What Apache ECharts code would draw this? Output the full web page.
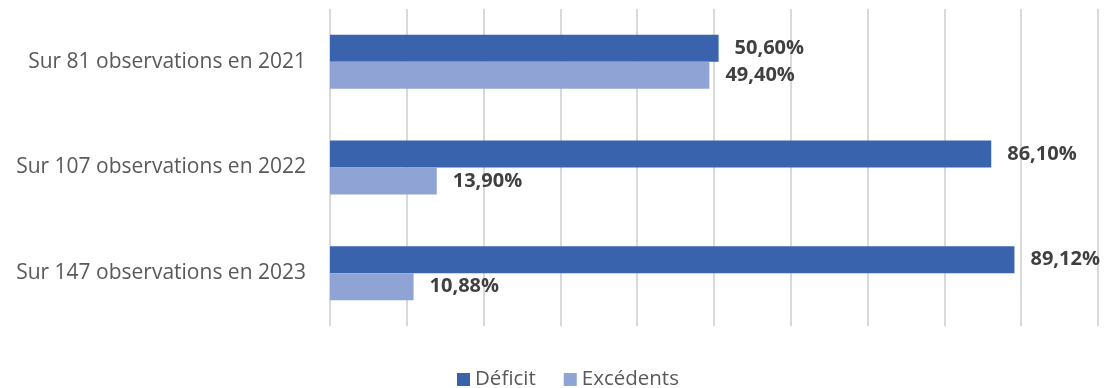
<!DOCTYPE html>
<html>
<head>
<meta charset="utf-8">
<script src="https://cdn.jsdelivr.net/npm/echarts@6/dist/echarts.min.js"></script>
<style>
  html, body { margin: 0; padding: 0; background: #fff; }
  #chart { width: 1104px; height: 388px; }
</style>
</head>
<body>
<div id="chart"></div>
<script>
// Categories (top to bottom) and the share of each outcome, in percent
const categories = [
  'Sur 81 observations en 2021',
  'Sur 107 observations en 2022',
  'Sur 147 observations en 2023'
];
const deficit = [50.60, 86.10, 89.12];
const excedents = [49.40, 13.90, 10.88];
const seriesNames = ['Déficit', 'Excédents'];

const fontFamily = '"Open Sans", "Liberation Sans", Arial, sans-serif';

function pct(v) {
  return v.toFixed(2).replace('.', ',') + '%';
}

const labelStyle = {
  show: true,
  position: 'right',
  distance: 16,
  formatter: p => pct(p.value),
  color: '#404040',
  fontWeight: 'bold',
  fontSize: 20,
  fontFamily
};

const chart = echarts.init(document.getElementById('chart'), null, { renderer: 'canvas' });
chart.setOption({
  animation: false,
  grid: { left: 330, right: 6, top: 9, bottom: 62, containLabel: false },
  legend: {
    top: 364,
    left: 452,
    itemWidth: 13,
    itemHeight: 13,
    itemGap: 28,
    icon: 'rect',
    textStyle: { color: '#595959', fontSize: 20.5, fontFamily },
    data: seriesNames
  },
  xAxis: {
    type: 'value',
    min: 0,
    max: 100,
    interval: 10,
    axisLabel: { show: false },
    axisTick: { show: false },
    axisLine: { show: false },
    splitLine: { show: true, lineStyle: { color: '#d9d9d9', width: 2 } }
  },
  yAxis: {
    type: 'category',
    inverse: true,
    data: categories,
    axisTick: { show: false },
    axisLine: { show: false },
    axisLabel: { color: '#595959', fontSize: 21, fontFamily, margin: 24 }
  },
  series: [
    {
      name: seriesNames[0],
      type: 'bar',
      data: deficit,
      barWidth: 27,
      barGap: '0%',
      itemStyle: { color: '#3a63ad' },
      label: labelStyle
    },
    {
      name: seriesNames[1],
      type: 'bar',
      data: excedents,
      barWidth: 27,
      barGap: '0%',
      itemStyle: { color: '#8fa4d5' },
      label: labelStyle
    }
  ]
});
</script>
</body>
</html>
